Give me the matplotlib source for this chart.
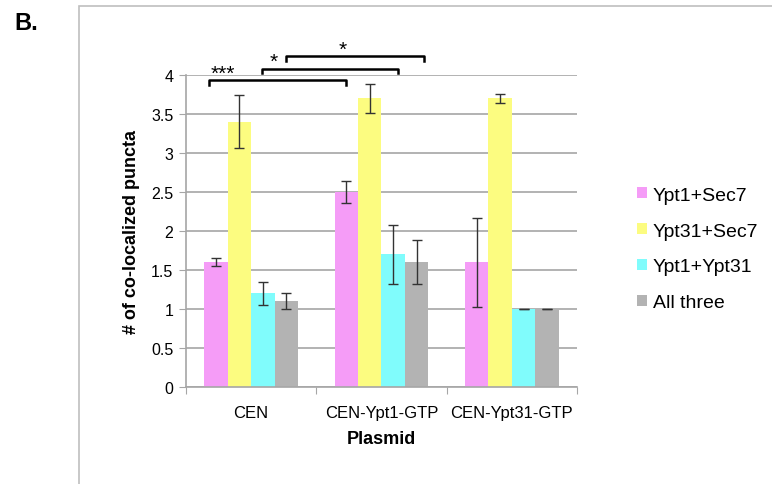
import matplotlib.pyplot as plt
import numpy as np
from matplotlib.patches import Rectangle

plt.rcParams['font.family'] = ['Liberation Sans', 'DejaVu Sans']

# data
plasmids = ['CEN', 'CEN-Ypt1-GTP', 'CEN-Ypt31-GTP']
series = ['Ypt1+Sec7', 'Ypt31+Sec7', 'Ypt1+Ypt31', 'All three']
colors = ['#f59cf7', '#fcfc80', '#80fcfc', '#b3b3b3']
values = [
    [1.6, 2.5, 1.6],
    [3.4, 3.7, 3.7],
    [1.2, 1.7, 1.0],
    [1.1, 1.6, 1.0],
]
errors = [
    [0.05, 0.135, 0.57],
    [0.34, 0.19, 0.055],
    [0.15, 0.375, 0.0],
    [0.10, 0.28, 0.0],
]
# significance brackets: (x start, x end, height, label, label x, label y)
brackets = [
    (-0.32, 0.73, 3.93, '***', -0.22, 4.02),
    (0.08, 1.13, 4.08, '*', 0.17, 4.17),
    (0.27, 1.33, 4.24, '*', 0.70, 4.33),
]

fig = plt.figure(figsize=(7.72, 4.85), dpi=100)
ax = fig.add_axes([0.2409, 0.2, 0.5065, 0.6433])

# outer frame
fig.patches.append(Rectangle((78.5 / 772, -0.1), 1.2, 1 - 7 / 485 + 0.1,
                             transform=fig.transFigure, fill=False,
                             edgecolor='#bfbfbf', linewidth=1.2))
fig.text(14 / 772, 1 - 24 / 485, 'B.', fontsize=17, fontweight='bold', va='center')

x = np.arange(len(plasmids))
w = 0.18
for i, name in enumerate(series):
    pos = x - 0.27 + i * w
    ax.bar(pos, values[i], w, color=colors[i], label=name, zorder=2)
    ax.errorbar(pos, values[i], yerr=errors[i], fmt='none', ecolor='#333333',
                elinewidth=1, capsize=3.5, capthick=1, zorder=3)

for x0, x1, h, lab, lx, ly in brackets:
    ax.plot([x0, x0, x1, x1], [h - 0.06, h, h, h - 0.06], color='black',
            linewidth=1.8, clip_on=False, zorder=4)
    ax.text(lx, ly, lab, ha='center', va='center', fontsize=15, clip_on=False)

ax.set_xlim(-0.5, 2.5)
ax.set_ylim(0, 4)
ax.set_yticks(np.arange(0, 4.01, 0.5))
ax.set_yticklabels(['0', '0.5', '1', '1.5', '2', '2.5', '3', '3.5', '4'])
ax.yaxis.grid(True, color='#a6a6a6', linewidth=1.2, zorder=0)
ax.set_axisbelow(True)

ax.set_xticks([-0.5, 0.5, 1.5, 2.5])
ax.set_xticklabels([])
ax.set_xticks(x, minor=True)
ax.set_xticklabels(plasmids, minor=True)
ax.tick_params(axis='x', which='minor', length=0, pad=13, labelsize=12)
ax.tick_params(axis='x', which='major', length=5, color='#a6a6a6')
ax.tick_params(axis='y', length=5, color='#a6a6a6', labelsize=11.5, pad=4)

for s in ['top', 'right']:
    ax.spines[s].set_visible(False)
for s in ['left', 'bottom']:
    ax.spines[s].set_color('#a6a6a6')
    ax.spines[s].set_linewidth(1.2)

ax.set_ylabel('# of co-localized puncta', fontsize=13, fontweight='bold', labelpad=8)
ax.set_xlabel('Plasmid', fontsize=13, fontweight='bold', labelpad=7)

fig.legend(loc='center left', bbox_to_anchor=(637 / 772, 1 - 250 / 485),
           bbox_transform=fig.transFigure, frameon=False, borderpad=0,
           borderaxespad=0, fontsize=14, handlelength=0.52, handleheight=0.52,
           handletextpad=0.28, labelspacing=0.97)

plt.savefig('out.png', dpi=100)
